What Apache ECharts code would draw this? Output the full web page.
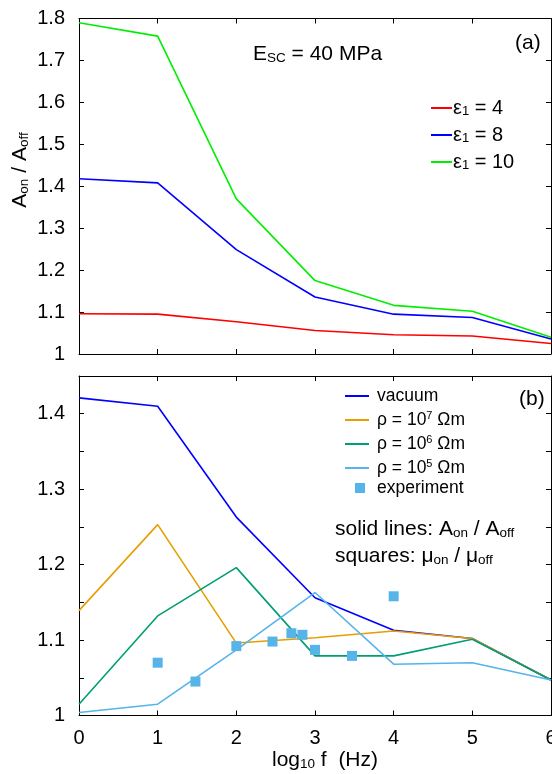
<!DOCTYPE html>
<html><head><meta charset="utf-8">
<script src="https://cdn.jsdelivr.net/npm/echarts@6/dist/echarts.min.js"></script>
<style>html,body{margin:0;padding:0;background:#fff}#c{width:552px;height:774px}</style>
</head><body><div id="c"></div>
<script>
// ---- data ----
const logF = [0, 1, 2, 3, 4, 5, 6];
const xTickLabels = ['0', '1', '2', '3', '4', '5', '6'];
// panel (a)
const eps4 = [1.096, 1.095, 1.077, 1.056, 1.046, 1.043, 1.025];
const eps8 = [1.418, 1.408, 1.249, 1.136, 1.095, 1.087, 1.036];
const eps10 = [1.790, 1.758, 1.370, 1.175, 1.116, 1.102, 1.040];
// panel (b)
const vacuum = [1.421, 1.410, 1.263, 1.156, 1.113, 1.102, 1.047];
const rho7 = [1.139, 1.253, 1.096, 1.103, 1.112, 1.102, 1.047];
const rho6 = [1.015, 1.132, 1.196, 1.079, 1.079, 1.101, 1.047];
const rho5 = [1.004, 1.015, 1.087, 1.163, 1.068, 1.070, 1.047];
const expX = [1.0, 1.48, 2.0, 2.46, 2.70, 2.84, 3.0, 3.47, 4.0];
const expY = [1.070, 1.045, 1.092, 1.098, 1.109, 1.107, 1.087, 1.079, 1.158];
const yTicksA = [1, 1.1, 1.2, 1.3, 1.4, 1.5, 1.6, 1.7, 1.8];
const yTicksB = [1, 1.1, 1.2, 1.3, 1.4];

const FONT = 'Liberation Sans, Arial, Helvetica, sans-serif';
const FS = 20;
const pairs = (xs, ys) => xs.map((x, i) => [x, ys[i]]);

const chart = echarts.init(document.getElementById('c'), null, {renderer: 'canvas'});

function xAx(gi, top) {
  return {
    type: 'value', gridIndex: gi, min: 0, max: 6, interval: 1,
    position: top ? 'top' : 'bottom',
    axisLine: {onZero: false, lineStyle: {color: '#000', width: 1}},
    axisTick: {show: true, inside: true, length: 5, lineStyle: {color: '#000'}},
    axisLabel: {show: !top && gi === 1, color: '#000', fontFamily: FONT, fontSize: FS, margin: 13,
      showMinLabel: true, showMaxLabel: true, hideOverlap: false,
      formatter: v => xTickLabels[logF.indexOf(v)] ?? ''},
    splitLine: {show: false}
  };
}
function yAx(gi, right, max, interval, labels) {
  return {
    type: 'value', gridIndex: gi, min: 1, max: max, interval: interval,
    position: right ? 'right' : 'left',
    axisLine: {onZero: false, lineStyle: {color: '#000', width: 1}},
    axisTick: {show: true, inside: true, length: 5, lineStyle: {color: '#000'}},
    axisLabel: {show: !right, color: '#000', fontFamily: FONT, fontSize: FS, margin: 14,
      showMinLabel: true, showMaxLabel: true, hideOverlap: false,
      formatter: v => { const k = labels.findIndex(t => Math.abs(t - v) < 1e-6); return k >= 0 ? String(labels[k]) : ''; }},
    splitLine: {show: false}
  };
}

const richA = {
  t: {fontFamily: FONT, fontSize: 20, color: '#000'},
  s: {fontFamily: FONT, fontSize: 13, color: '#000', padding: [6, 0, 0, 0]}
};
const richB = {
  t: {fontFamily: FONT, fontSize: 17.5, color: '#000'},
  p: {fontFamily: FONT, fontSize: 11, color: '#000', padding: [0, 0, 9, 0]}
};
const nameFmt = {
  'e4': '{t|ε}{s|1}{t| = 4}',
  'e8': '{t|ε}{s|1}{t| = 8}',
  'e10': '{t|ε}{s|1}{t| = 10}',
  'vacuum': '{t|vacuum}',
  'r7': '{t|ρ = 10}{p|7}{t| Ωm}',
  'r6': '{t|ρ = 10}{p|6}{t| Ωm}',
  'r5': '{t|ρ = 10}{p|5}{t| Ωm}',
  'experiment': '{t|experiment}'
};

function line(name, xi, yi, xs, ys, color) {
  return {name, type: 'line', xAxisIndex: xi, yAxisIndex: yi, data: pairs(xs, ys),
    symbol: 'none', lineStyle: {color, width: 1.6}, itemStyle: {color}, animation: false};
}

const textRich = {
  t: {fontFamily: FONT, fontSize: 21, fill: '#000'},
  s: {fontFamily: FONT, fontSize: 13.5, fill: '#000', padding: [8, 0, 0, 0]}
};

const option = {
  animation: false,
  grid: [
    {left: 79, top: 18.5, width: 472, height: 335.5, containLabel: false, outerBoundsMode: 'none'},
    {left: 79, top: 376, width: 472, height: 339.5, containLabel: false, outerBoundsMode: 'none'}
  ],
  xAxis: [xAx(0, false), xAx(0, true), xAx(1, false), xAx(1, true)],
  yAxis: [yAx(0, false, 1.8, 0.1, yTicksA), yAx(0, true, 1.8, 0.1, yTicksA),
          yAx(1, false, 1.45, 0.05, yTicksB), yAx(1, true, 1.45, 0.05, yTicksB)],
  legend: [
    {data: ['e4', 'e8', 'e10'], orient: 'vertical', left: 425, top: 93, itemWidth: 21, itemHeight: 10, itemGap: 7,
      itemStyle: {opacity: 0}, formatter: n => nameFmt[n],
      textStyle: {rich: richA, fontSize: 20, padding: [0, 0, 0, -4]}, selectedMode: false},
    {data: ['vacuum', 'r7', 'r6', 'r5'], orient: 'vertical', left: 339, top: 382,
      itemWidth: 24, itemHeight: 9, itemGap: 5, itemStyle: {opacity: 0}, formatter: n => nameFmt[n],
      textStyle: {rich: richB, fontSize: 17.5, padding: [0, 0, 0, 3]}, selectedMode: false},
    {data: [{name: 'experiment', icon: 'rect'}], orient: 'vertical', left: 350, top: 474,
      itemWidth: 10, itemHeight: 10, formatter: n => nameFmt[n],
      textStyle: {rich: richB, fontSize: 17.5, padding: [0, 0, 0, 7]}, selectedMode: false}
  ],
  series: [
    line('e4', 0, 0, logF, eps4, '#ff0000'),
    line('e8', 0, 0, logF, eps8, '#0000ff'),
    line('e10', 0, 0, logF, eps10, '#00ee00'),
    line('vacuum', 2, 2, logF, vacuum, '#0000ff'),
    line('r7', 2, 2, logF, rho7, '#e69f00'),
    line('r6', 2, 2, logF, rho6, '#009e73'),
    line('r5', 2, 2, logF, rho5, '#56b4e9'),
    {name: 'experiment', type: 'scatter', xAxisIndex: 2, yAxisIndex: 2, data: pairs(expX, expY),
      symbol: 'rect', symbolSize: 10, itemStyle: {color: '#56b4e9', opacity: 1}, z: 5}
  ],
  graphic: [
    {type: 'text', left: 253, top: 44, style: {text: '{t|E}{s|SC}{t| = 40 MPa}', rich: textRich}},
    {type: 'text', left: 515, top: 33, style: {text: '(a)', fontFamily: FONT, fontSize: 21, fill: '#000'}},
    {type: 'text', left: 519, top: 389, style: {text: '(b)', fontFamily: FONT, fontSize: 21, fill: '#000'}},
    {type: 'text', left: 335, top: 519, style: {text: '{t|solid lines: A}{s|on}{t| / A}{s|off}', rich: textRich}},
    {type: 'text', left: 335, top: 546, style: {text: '{t|squares: μ}{s|on}{t| / μ}{s|off}', rich: textRich}},
    {type: 'text', left: 272, top: 750, style: {text: '{t|log}{s|10}{t| f  (Hz)}', rich: textRich}},
    {type: 'text', x: 20, y: 170, rotation: Math.PI / 2,
      style: {text: '{t|A}{s|on}{t| / A}{s|off}', rich: textRich, textAlign: 'center', textVerticalAlign: 'middle'}}
  ]
};
chart.setOption(option);
</script></body></html>
